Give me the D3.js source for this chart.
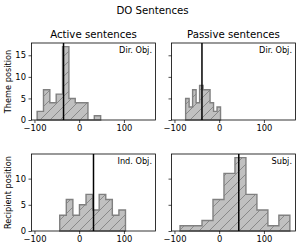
<!DOCTYPE html>
<html>
<head>
<meta charset="utf-8">
<script src="https://cdn.jsdelivr.net/npm/d3@7"></script>
<style>
  html, body { margin: 0; padding: 0; background: #fff; }
  svg { display: block; font-family: "DejaVu Sans", sans-serif; }
</style>
</head>
<body>
<svg id="chart" width="305" height="244"></svg>
<script>
// ---------------- data ----------------
const figTitle = "DO Sentences";
const columnTitles = ["Active sentences", "Passive sentences"];
const rowLabels = ["Theme position", "Recipient position"];
const panelTags = ["Dir. Obj.", "Dir. Obj.", "Ind. Obj.", "Subj."];

const xTicks = [-100, 0, 100];
const topYTicks = [0, 5, 10, 15];
const bottomYTicks = [0, 5, 10];

// histogram counts (10 equal bins between range[0] and range[1])
const activeThemeCounts  = [2, 7, 4, 6, 17, 5, 4, 4, 0, 1];
const activeThemeRange   = [-94, 48];
const passiveThemeCounts = [5, 3, 7, 4, 8, 7, 7, 4, 2, 3];
const passiveThemeRange  = [-75, 3];
const activeRecipCounts  = [3, 6, 3, 5, 7, 4, 7, 6, 3, 4];
const activeRecipRange   = [-43.5, 103.5];
const passiveRecipCounts = [1, 1, 2, 6, 11, 14, 7, 4, 1, 3];
const passiveRecipRange  = [-87.5, 158];

// vertical reference lines (means)
const meanLines = [-35, -38.5, 32, 43.8];

// ---------------- layout ----------------
const svg = d3.select("#chart");
const colX = [31.5, 171.5];
const rowY = [43, 154];
const W = 124, H = 77;

const fill = "#c0c0c0", edge = "#808080";

const defs = svg.append("defs");
const pat = defs.append("pattern")
  .attr("id", "hatch").attr("patternUnits", "userSpaceOnUse")
  .attr("width", 10).attr("height", 10);
[[0,10,10,0],[-5,5,5,-5],[5,15,15,5]].forEach(l => {
  pat.append("line").attr("x1", l[0]).attr("y1", l[1]).attr("x2", l[2]).attr("y2", l[3])
    .attr("stroke", edge).attr("stroke-width", 0.85);
});

// shared x domain with 5% margins
const allMin = d3.min([activeThemeRange[0], passiveThemeRange[0], activeRecipRange[0], passiveRecipRange[0]]);
const allMax = d3.max([activeThemeRange[1], passiveThemeRange[1], activeRecipRange[1], passiveRecipRange[1]]);
const pad = (allMax - allMin) * 0.05;
const xDomain = [allMin - pad, allMax + pad];

const panels = [
  {row: 0, col: 0, counts: activeThemeCounts, range: activeThemeRange},
  {row: 0, col: 1, counts: passiveThemeCounts, range: passiveThemeRange},
  {row: 1, col: 0, counts: activeRecipCounts, range: activeRecipRange},
  {row: 1, col: 1, counts: passiveRecipCounts, range: passiveRecipRange},
];

const rowMax = [0, 1].map(r => d3.max(panels.filter(p => p.row === r), p => d3.max(p.counts)) * 1.05);
const rowTicks = [topYTicks, bottomYTicks];

// title
svg.append("text").attr("x", 152.5).attr("y", 13.5).attr("text-anchor", "middle")
  .attr("font-size", 10.2).attr("fill", "#000").text(figTitle);

panels.forEach((p, i) => {
  const x0 = colX[p.col], y0 = rowY[p.row];
  const x = d3.scaleLinear().domain(xDomain).range([x0, x0 + W]);
  const y = d3.scaleLinear().domain([0, rowMax[p.row]]).range([y0 + H, y0]);
  const g = svg.append("g");

  const n = p.counts.length;
  const edges = d3.range(n + 1).map(k => p.range[0] + (p.range[1] - p.range[0]) * k / n);
  const pts = [[edges[0], 0]];
  p.counts.forEach((c, k) => { pts.push([edges[k], c]); pts.push([edges[k + 1], c]); });
  pts.push([edges[n], 0]);
  const line = d3.line().x(d => x(d[0])).y(d => y(d[1]));
  const dPath = line(pts) + "Z";
  g.append("path").attr("d", dPath).attr("fill", fill);
  g.append("path").attr("d", dPath).attr("fill", "url(#hatch)");
  g.append("path").attr("d", dPath).attr("fill", "none").attr("stroke", edge)
    .attr("stroke-width", 1.4).attr("stroke-linejoin", "miter");

  // mean line
  g.append("line").attr("x1", x(meanLines[i])).attr("x2", x(meanLines[i]))
    .attr("y1", y0).attr("y2", y0 + H).attr("stroke", "#000").attr("stroke-width", 1.5);

  // axes
  const xAxis = d3.axisBottom(x).tickValues(xTicks).tickSize(3).tickPadding(2.5)
    .tickFormat(d => d < 0 ? "\u2212" + Math.abs(d) : String(d));
  const gx = g.append("g").attr("transform", `translate(0,${y0 + H})`).call(xAxis);
  const yAxis = d3.axisLeft(y).tickValues(rowTicks[p.row]).tickSize(3).tickPadding(2.5)
    .tickFormat(p.col === 0 ? d3.format("d") : () => "");
  const gy = g.append("g").attr("transform", `translate(${x0},0)`).call(yAxis);
  [gx, gy].forEach(a => {
    a.select(".domain").remove();
    a.selectAll("text").attr("font-size", 8.4).attr("font-family", "DejaVu Sans").attr("fill", "#000");
    a.selectAll("line").attr("stroke", "#000").attr("stroke-width", 0.7);
  });

  // frame
  g.append("rect").attr("x", x0).attr("y", y0).attr("width", W).attr("height", H)
    .attr("fill", "none").attr("stroke", "#000").attr("stroke-width", 0.8);

  // tag
  g.append("text").attr("x", x0 + W - 3.5).attr("y", y0 + 9.5).attr("text-anchor", "end")
    .attr("font-size", 8.2).attr("fill", "#000").text(panelTags[i]);

  if (p.row === 0) {
    g.append("text").attr("x", x0 + W / 2).attr("y", y0 - 5).attr("text-anchor", "middle")
      .attr("font-size", 10.2).attr("fill", "#000").text(columnTitles[p.col]);
  }
  if (p.col === 0) {
    g.append("text").attr("transform", `translate(11,${y0 + H / 2}) rotate(-90)`)
      .attr("text-anchor", "middle").attr("font-size", 8.2).attr("fill", "#000").text(rowLabels[p.row]);
  }
});
</script>
</body>
</html>
